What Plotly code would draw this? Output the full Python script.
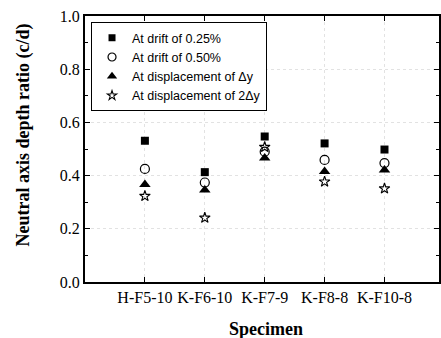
import plotly.graph_objects as go

specimens = ["H-F5-10", "K-F6-10", "K-F7-9", "K-F8-8", "K-F10-8"]
drift_025 = [0.531, 0.413, 0.547, 0.521, 0.498]
drift_050 = [0.425, 0.374, 0.490, 0.459, 0.447]
disp_dy = [0.367, 0.346, 0.466, 0.415, 0.421]
disp_2dy = [0.323, 0.241, 0.507, 0.377, 0.351]

series = [
    ("At drift of 0.25%", drift_025, dict(symbol="square", color="black"), 8, 7),
    ("At drift of 0.50%", drift_050, dict(symbol="circle-open", color="black", line=dict(width=1.2)), 9, 8),
    ("At displacement of \u0394y", disp_dy, dict(symbol="triangle-up", color="black"), 10, 9),
    ("At displacement of 2\u0394y", disp_2dy, dict(symbol="star-open", color="black", line=dict(width=1.1)), 8, 7),
]

fig = go.Figure()
for name, vals, mk, size, lsize in series:
    fig.add_trace(go.Scatter(x=specimens, y=vals, mode="markers", name=name,
                             marker=dict(mk, size=size), showlegend=False, legendgroup=name))
for name, vals, mk, size, lsize in series:
    fig.add_trace(go.Scatter(x=[None], y=[None], mode="markers", name=name,
                             marker=dict(mk, size=lsize), showlegend=True, legendgroup=name))

serif = "Liberation Serif, Times New Roman, serif"
fig.update_layout(
    width=441, height=338,
    margin=dict(l=85, r=0, t=16, b=56),
    plot_bgcolor="white", paper_bgcolor="white",
    font=dict(family=serif, color="black", size=16),
    legend=dict(
        x=0.017, y=0.977, xanchor="left", yanchor="top",
        bordercolor="black", borderwidth=1, bgcolor="white",
        font=dict(family="Liberation Sans, Arial, sans-serif", size=12.5, color="black"),
        tracegroupgap=0, itemsizing="trace", itemwidth=30,
    ),
    annotations=[
        dict(text="<b>Specimen</b>", xref="paper", yref="paper", x=0.51, y=-0.175,
             xanchor="center", yanchor="middle", showarrow=False, font=dict(family=serif, size=18)),
        dict(text="<b>Neutral axis depth ratio (c/d)</b>", xref="paper", yref="paper", x=-0.175, y=0.551,
             xanchor="center", yanchor="middle", textangle=-90, showarrow=False, font=dict(family=serif, size=18)),
    ],
)
fig.update_xaxes(
    type="category", range=[-1, 4.91],
    showline=True, linecolor="black", linewidth=2, mirror="allticks",
    ticks="inside", ticklen=5, tickcolor="black",
    showgrid=True, gridcolor="#e2e2e2", griddash="dot", gridwidth=1,
    tickfont=dict(size=16),
)
fig.update_yaxes(
    range=[0, 1.0], dtick=0.2, tickformat=".1f",
    showline=True, linecolor="black", linewidth=2, mirror="allticks",
    ticks="inside", ticklen=5, tickcolor="black",
    minor=dict(ticks="inside", dtick=0.1, ticklen=3, tickcolor="black", showgrid=False),
    showgrid=True, gridcolor="#e2e2e2", griddash="dot", gridwidth=1,
    zeroline=False,
    tickfont=dict(size=16),
)

fig.write_html("out.html")
